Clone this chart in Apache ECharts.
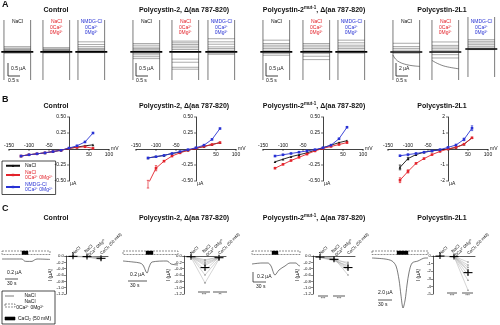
<!DOCTYPE html>
<html>
<head>
<meta charset="utf-8">
<script src="https://cdn.jsdelivr.net/npm/echarts@6.0.0/dist/echarts.min.js"></script>
<style>
html,body{margin:0;padding:0;background:#fff;}
#chart{width:500px;height:325px;}
</style>
</head>
<body>
<div id="chart"></div>
<script>
// ================= DATA =================
const panelTitles = ['Control', 'Polycystin-2, Δ(aa 787-820)', 'Polycystin-2{s|mut-1}, Δ(aa 787-820)', 'Polycystin-2L1'];
const legNaCl = 'NaCl';
const legLow = 'NaCl\n0Ca²⁺ 0Mg²⁺';
const legNmdg = 'NMDG-Cl\n0Ca²⁺ 0Mg²⁺';
const aLabelNaCl = ['NaCl'];
const aLabelLow = ['NaCl', '0Ca²⁺', '0Mg²⁺'];
const aLabelNmdg = ['NMDG-Cl', '0Ca²⁺', '0Mg²⁺'];

// Panel A: steady current levels of voltage-step traces (µA)
const aCtrlNaCl = [0.22, 0.16, 0.12, 0.09, 0.06, 0.03, -0.03, -0.05];
const aCtrlLow  = [0.18, 0.13, 0.10, 0.07, 0.05, 0.03, -0.02, -0.04];
const aCtrlNmdg = [0.42, 0.31, 0.22, 0.15, 0.11, 0.07, 0.03, -0.03];
const aPc2NaCl  = [0.35, 0.28, 0.20, 0.14, 0.09, 0.04, -0.06, -0.12, -0.20, -0.28];
const aPc2Low   = [0.45, 0.38, 0.31, 0.24, 0.17, 0.10, -0.30, -0.43, -0.64, -0.72];
const aPc2Nmdg  = [0.55, 0.42, 0.32, 0.21, 0.14, 0.07, -0.05, -0.10];
const aMutNaCl  = [0.49, 0.35, 0.28, 0.21, 0.14, 0.07, -0.07, -0.14];
const aMutLow   = [0.35, 0.28, 0.21, 0.14, 0.07, -0.07, -0.18, -0.32];
const aMutNmdg  = [0.49, 0.38, 0.28, 0.21, 0.14, 0.07, -0.05];
const aL1NaCl   = [1.45, 0.90, 0.60, 0.30, -0.20];
const aL1Low    = [1.67, 1.10, 0.83, 0.55, 0.28, -0.45, -1.00];
const aL1Nmdg   = [1.55, 1.28, 1.00, 0.72, 0.44, 0.17, -0.10];
const aL1NaClSlow = [[0, -0.5], [0.1, -1.2], [0.25, -1.7], [0.5, -2.1], [0.75, -2.3], [1, -2.4]];
const aL1LowSlow  = [[0, -1.4], [0.2, -1.9], [0.5, -2.4], [1, -2.8]];

// Panel B: I-V relations
const voltages = [-120, -100, -80, -60, -40, -20, 0, 20, 40, 60];
const ivCtrlNaCl = [-0.11, -0.09, -0.075, -0.06, -0.04, -0.02, 0.01, 0.03, 0.05, 0.065];
const ivCtrlLow  = [-0.11, -0.09, -0.075, -0.06, -0.04, -0.02, 0.01, 0.025, 0.035, 0.01];
const ivCtrlNmdg = [-0.11, -0.09, -0.075, -0.06, -0.04, -0.02, 0.015, 0.05, 0.11, 0.25];
const ivPc2NaCl  = [-0.14, -0.12, -0.10, -0.07, -0.05, -0.02, 0.01, 0.04, 0.07, 0.10];
const ivPc2Low   = [-0.55, -0.30, -0.19, -0.11, -0.06, -0.02, 0.01, 0.04, 0.07, 0.10];
const ivPc2Nmdg  = [-0.14, -0.12, -0.10, -0.07, -0.04, -0.01, 0.02, 0.06, 0.15, 0.32];
const ivMutNaCl  = [-0.20, -0.16, -0.12, -0.09, -0.06, -0.02, 0.02, 0.06, 0.10, 0.13];
const ivMutLow   = [-0.30, -0.24, -0.18, -0.13, -0.08, -0.03, 0.01, 0.04, 0.07, 0.10];
const ivMutNmdg  = [-0.11, -0.09, -0.07, -0.05, -0.03, -0.01, 0.02, 0.06, 0.16, 0.34];
const ivL1NaCl   = [-1.15, -0.60, -0.35, -0.20, -0.12, -0.05, 0.00, 0.10, 0.30, 0.70];
const ivL1Low    = [-1.95, -1.40, -0.90, -0.60, -0.35, -0.15, 0.00, 0.10, 0.30, 0.70];
const ivL1Nmdg   = [-0.42, -0.35, -0.28, -0.20, -0.12, -0.04, 0.10, 0.25, 0.60, 1.30];
const errPc2Low  = [0.06, 0.04, 0, 0, 0, 0, 0, 0, 0, 0];
const errL1NaCl  = [0.15, 0.08, 0, 0, 0, 0, 0, 0, 0, 0];
const errL1Low   = [0.15, 0.10, 0, 0, 0, 0, 0, 0, 0, 0];
const errL1Nmdg  = [0, 0, 0, 0, 0, 0, 0, 0, 0.08, 0.15];
const bXTicks = [-150, -100, -50, 50, 100];
const bYTicksSmall = [-0.5, -0.25, 0.25, 0.5];
const bYTicksL1 = [-2, -1, 1, 2];

// Panel C: perfusion traces (time s, µA)
const cCtrlTrace = [[0, 0], [100, 0], [112, -0.1], [125, -0.12], [150, -0.12], [162, -0.05], [175, 0], [240, -0.02]];
const cPc2Trace  = [[0, 0], [44, -0.05], [74, -0.1], [87, -0.2], [105, -0.6], [114, -0.3], [127, -0.05], [192, 0], [210, -0.15], [240, -0.2]];
const cMutTrace  = [[0, 0], [50, 0.05], [80, 0.05], [95, -0.1], [115, -0.55], [135, -0.3], [165, -0.1], [190, 0.05], [220, 0.05], [230, -0.05], [240, -0.1]];
const cL1Trace   = [[0, 0], [56, -0.1], [86, -0.3], [103, -0.8], [116, -2.2], [124, -3.7], [133, -5.0], [142, -4.2], [150, -2.7], [159, -1.4], [172, -0.5], [197, -0.3], [227, 0], [240, 0]];
// Panel C: per-cell currents [NaCl, NaCl 0Ca0Mg, CaCl2]
const dotCats = ['NaCl', 'NaCl\n0Ca²⁺ 0Mg²⁺', 'CaCl₂ (50 mM)'];
const ctrlCells = [[-0.01, -0.02, -0.05], [-0.01, -0.01, -0.08], [-0.02, -0.03, -0.12], [0, -0.01, -0.03], [-0.01, -0.02, -0.10], [-0.02, -0.02, -0.06]];
const pc2Cells  = [[-0.01, -0.12, -0.03], [-0.02, -0.20, -0.05], [-0.03, -0.30, -0.06], [-0.02, -0.45, -0.04], [-0.01, -0.60, -0.08], [-0.04, -0.85, -0.10], [-0.02, -0.15, -0.02], [-0.03, -0.25, -0.05]];
const mutCells  = [[-0.02, -0.08, -0.25], [-0.03, -0.10, -0.35], [-0.04, -0.12, -0.45], [-0.02, -0.06, -0.60], [-0.05, -0.15, -0.30], [-0.03, -0.10, -0.40], [-0.04, -0.13, -0.20]];
const l1Cells   = [[0, -0.05, -0.8], [-0.02, -0.08, -1.2], [-0.01, -0.10, -1.8], [0, -0.05, -2.5], [-0.03, -0.12, -3.2], [-0.01, -0.06, -4.5], [-0.02, -0.09, -1.5], [0, -0.04, -2.0]];
const sigLabels = [[], ['***', '**'], ['***', '***'], ['***', '***']];

// ================= BUILD =================
const FONT = '"Liberation Sans", Arial, Helvetica, sans-serif';
const RED = '#e3232b', BLUE = '#2832d4', INK = '#111';
const grids = [], xAxes = [], yAxes = [], series = [], gfx = [];

function addGrid(b) { grids.push(Object.assign({ containLabel: false, outerBoundsMode: 'none', show: false }, b)); return grids.length - 1; }
function txt(x, y, s, o) {
  const st = Object.assign({ text: s, fontSize: 5, fontFamily: FONT, fill: INK, textAlign: 'left', textVerticalAlign: 'middle' }, o || {});
  st.align = st.textAlign; st.verticalAlign = st.textVerticalAlign;
  gfx.push({ type: 'text', x, y, silent: true, z: 50, style: st });
}
function seg(x1, y1, x2, y2, o) { gfx.push({ type: 'line', silent: true, z: 50, shape: { x1, y1, x2, y2 }, style: Object.assign({ stroke: INK, lineWidth: 0.7 }, o || {}) }); }
function rect(x, y, w, h, o) { gfx.push({ type: 'rect', silent: true, z: 50, shape: { x, y, width: w, height: h }, style: Object.assign({ fill: 'none', stroke: INK, lineWidth: 0.6 }, o || {}) }); }

const titleX = [56, 184, 314, 442];
function titles(y) {
  titleX.forEach((x, i) => gfx.push({ type: 'text', x, y, silent: true, z: 50, style: {
    text: panelTitles[i], fontSize: 7, fontWeight: 'bold', fontFamily: FONT, fill: INK, lineHeight: 10,
    textAlign: 'center', align: 'center', textVerticalAlign: 'middle', verticalAlign: 'middle',
    rich: { s: { fontSize: 4.5, fontWeight: 'bold', fontFamily: FONT, verticalAlign: 'top', lineHeight: 10, fill: INK } } } }));
}
txt(2, 5, 'A', { fontSize: 9, fontWeight: 'bold' });
txt(2, 100, 'B', { fontSize: 9, fontWeight: 'bold' });
txt(2, 209, 'C', { fontSize: 9, fontWeight: 'bold' });
titles(10); titles(106); titles(218);

// ---------- Panel A ----------
const aSets = [[aCtrlNaCl, aCtrlLow, aCtrlNmdg], [aPc2NaCl, aPc2Low, aPc2Nmdg], [aMutNaCl, aMutLow, aMutNmdg], [aL1NaCl, aL1Low, aL1Nmdg]];
const aSlow = { '3-0': aL1NaClSlow, '3-1': aL1LowSlow };
const aGroupX = [[4, 43, 78], [133, 172, 208], [263, 303, 338], [393, 432, 468]];
const aRange = [[-1.17, 1.33], [-1.17, 1.33], [-1.17, 1.33], [-4.67, 5.33]];
const aLabels = [aLabelNaCl, aLabelLow, aLabelNmdg];
const aColors = [INK, RED, BLUE];
for (let p = 0; p < 4; p++) {
  for (let g = 0; g < 3; g++) {
    const top = (p === 3 && g === 2) ? 17 : 20;
    const gi = addGrid({ left: aGroupX[p][g] - 2.7, top, width: 32, height: 60 });
    const [mn, mx] = aRange[p];
    xAxes.push({ gridIndex: gi, type: 'value', min: -0.1, max: 1.1, show: false });
    yAxes.push({ gridIndex: gi, type: 'value', min: mn, max: mx, show: false });
    const xi = xAxes.length - 1, yi = yAxes.length - 1;
    const base = { type: 'line', xAxisIndex: xi, yAxisIndex: yi, symbol: 'none', silent: true, animation: false };
    aSets[p][g].forEach(v => series.push(Object.assign({}, base, { data: [[0, v], [1, v]], lineStyle: { color: '#555', width: 0.5 } })));
    const sl = aSlow[p + '-' + g];
    if (sl) series.push(Object.assign({}, base, { data: sl, smooth: 0.4, lineStyle: { color: '#333', width: 0.6 } }));
    series.push(Object.assign({}, base, { data: [[-0.1, 0], [1.1, 0]], lineStyle: { color: '#000', width: 1.7 } }));
    series.push(Object.assign({}, base, { data: [[0, mn], [0, mx]], lineStyle: { color: '#222', width: 0.6 } }));
    series.push(Object.assign({}, base, { data: [[1, mn], [1, mx]], lineStyle: { color: '#222', width: 0.6 } }));
    const cx = aGroupX[p][g] + 13.5;
    aLabels[g].forEach((s, k) => txt(cx, 22 + k * 5.5, s, { textAlign: 'center', fill: aColors[g], fontSize: 5 }));
  }
  const sx = [8, 136, 266, 396][p];
  seg(sx, 63, sx, 76, { lineWidth: 0.8 });
  seg(sx, 76, sx + 12, 76, { lineWidth: 0.8 });
  txt(sx + 3, 69, p === 3 ? '2 µA' : '0.5 µA', { fontSize: 5 });
  txt(sx, 81, '0.5 s', { fontSize: 5 });
}

// ---------- Panel B ----------
const bLeft = [9, 136, 263, 388];
const bRange = [[-0.5, 0.5], [-0.5, 0.5], [-0.5, 0.5], [-2, 2]];
const bYTicks = [bYTicksSmall, bYTicksSmall, bYTicksSmall, bYTicksL1];
const ivSets = [[ivCtrlNaCl, ivCtrlLow, ivCtrlNmdg], [ivPc2NaCl, ivPc2Low, ivPc2Nmdg], [ivMutNaCl, ivMutLow, ivMutNmdg], [ivL1NaCl, ivL1Low, ivL1Nmdg]];
const errSets = [[null, null, null], [null, errPc2Low, null], [null, null, null], [errL1NaCl, errL1Low, errL1Nmdg]];
const bNames = [legNaCl, legLow, legNmdg];
const bColors = [INK, RED, BLUE];
const bSymbols = ['triangle', 'rect', 'rect'];
const bAxes = [];
function errRender(color) {
  return function (params, api) {
    const x = api.value(0), y = api.value(1), e = api.value(2);
    const a = api.coord([x, y + e]), b = api.coord([x, y - e]);
    return { type: 'group', children: [
      { type: 'line', shape: { x1: a[0], y1: a[1], x2: b[0], y2: b[1] }, style: { stroke: color, lineWidth: 0.7 } },
      { type: 'line', shape: { x1: a[0] - 1.2, y1: a[1], x2: a[0] + 1.2, y2: a[1] }, style: { stroke: color, lineWidth: 0.7 } },
      { type: 'line', shape: { x1: b[0] - 1.2, y1: b[1], x2: b[0] + 1.2, y2: b[1] }, style: { stroke: color, lineWidth: 0.7 } }
    ] };
  };
}
for (let p = 0; p < 4; p++) {
  const [mn, mx] = bRange[p];
  const gi = addGrid({ left: bLeft[p], top: 117, width: 100, height: 64 });
  const axLine = { onZero: true, lineStyle: { color: INK, width: 0.8 } };
  xAxes.push({ gridIndex: gi, type: 'value', min: -150, max: 100, axisLine: axLine, axisTick: { show: false }, axisLabel: { show: false }, splitLine: { show: false } });
  yAxes.push({ gridIndex: gi, type: 'value', min: mn, max: mx, axisLine: axLine, axisTick: { show: false }, axisLabel: { show: false }, splitLine: { show: false } });
  const xi = xAxes.length - 1, yi = yAxes.length - 1;
  bAxes.push([xi, yi, p]);
  for (let k = 0; k < 3; k++) {
    const ivs = ivSets[p][k];
    series.push({ type: 'line', name: bNames[k], xAxisIndex: xi, yAxisIndex: yi, animation: false,
      data: voltages.map((v, i) => [v, ivs[i]]), symbol: bSymbols[k], symbolSize: 2.6,
      lineStyle: { color: bColors[k], width: 0.9 }, itemStyle: { color: bColors[k] }, z: 3 + k });
    const es = errSets[p][k];
    if (es) series.push({ type: 'custom', xAxisIndex: xi, yAxisIndex: yi, silent: true, animation: false, z: 3 + k,
      data: voltages.map((v, i) => [v, ivs[i], es[i]]).filter(d => d[2] > 0), renderItem: errRender(bColors[k]) });
  }
}

// ---------- Panel C ----------
const cTraces = [cCtrlTrace, cPc2Trace, cMutTrace, cL1Trace];
const cTraceBox = [[2, 48], [123, 55], [252, 48], [372, 56]];
const cTraceY = [[-2.6, 0.15], [-2.5, 0.25], [-2.35, 0.4], [-5.3, 0.2]];
const cellSets = [ctrlCells, pc2Cells, mutCells, l1Cells];
const dotLeft = [66, 184, 313, 433];
const dotY = [[-1.2, 0, 0.2], [-1.2, 0, 0.2], [-1.2, 0, 0.2], [-5, 0, 1]];
function meanRender(params, api) {
  const x = api.value(0), m = api.value(1), s = api.value(2);
  const c = api.coord([x, m]), t = api.coord([x, m + s]), b = api.coord([x, m - s]);
  const h = Math.max(3, (b[1] - t[1]) / 2);
  return { type: 'group', children: [
    { type: 'line', shape: { x1: c[0] - 4.5, y1: c[1], x2: c[0] + 4.5, y2: c[1] }, style: { stroke: '#000', lineWidth: 1.1 } },
    { type: 'line', shape: { x1: c[0], y1: c[1] - h, x2: c[0], y2: c[1] + h }, style: { stroke: '#000', lineWidth: 1.1 } }
  ] };
}
for (let p = 0; p < 4; p++) {
  const gi = addGrid({ left: cTraceBox[p][0], top: 256, width: cTraceBox[p][1], height: 55 });
  xAxes.push({ gridIndex: gi, type: 'value', min: 0, max: 240, show: false });
  yAxes.push({ gridIndex: gi, type: 'value', min: cTraceY[p][0], max: cTraceY[p][1], show: false });
  series.push({ type: 'line', xAxisIndex: xAxes.length - 1, yAxisIndex: yAxes.length - 1, data: cTraces[p], symbol: 'none', smooth: 0.3,
    silent: true, animation: false, lineStyle: { color: '#222', width: 0.6 } });
  const [mn, mx, iv] = dotY[p];
  const gd = addGrid({ left: dotLeft[p], top: 256, width: 42, height: 38 });
  xAxes.push({ gridIndex: gd, type: 'category', position: 'top', data: dotCats, boundaryGap: true,
    axisLine: { onZero: true, lineStyle: { color: INK, width: 0.7 } }, axisTick: { show: false },
    axisLabel: { rotate: 45, fontSize: 4.3, margin: 2, interval: 0, color: INK, fontFamily: FONT, lineHeight: 5 } });
  yAxes.push({ gridIndex: gd, type: 'value', min: mn, max: mx, interval: iv,
    axisLine: { show: true, onZero: false, lineStyle: { color: INK, width: 0.7 } }, axisTick: { show: true, length: 2, lineStyle: { color: INK, width: 0.5 } },
    splitLine: { show: false },
    axisLabel: { fontSize: 4.3, margin: 2, color: INK, fontFamily: FONT, formatter: v => p === 3 ? String(v) : v.toFixed(1) },
    name: 'I (µA)', nameLocation: 'middle', nameGap: 12, nameTextStyle: { fontSize: 5, color: INK, fontFamily: FONT } });
  const xi = xAxes.length - 1, yi = yAxes.length - 1;
  cellSets[p].forEach(cell => series.push({ type: 'line', xAxisIndex: xi, yAxisIndex: yi, data: cell, silent: true, animation: false,
    symbol: 'circle', symbolSize: 1.6, lineStyle: { color: '#aaa', width: 0.5 }, itemStyle: { color: '#888' }, z: 2 }));
  const stats = [0, 1, 2].map(k => {
    const vals = cellSets[p].map(c => c[k]);
    const m = vals.reduce((a, b) => a + b, 0) / vals.length;
    const sd = Math.sqrt(vals.reduce((a, b) => a + (b - m) * (b - m), 0) / (vals.length - 1));
    return [k, m, sd / Math.sqrt(vals.length)];
  });
  series.push({ type: 'custom', xAxisIndex: xi, yAxisIndex: yi, data: stats, renderItem: meanRender, silent: true, animation: false, z: 5 });
}
const perf = [[2, 48, 22, 6], [123, 55, 146, 7], [252, 48, 272, 6], [372, 56, 397, 11]];
perf.forEach(([x, w, bx, bw]) => {
  rect(x, 251, w, 3.5, { fill: '#fff', stroke: '#444', lineWidth: 0.6, lineDash: [2, 1] });
  rect(bx, 251, bw, 3.5, { fill: '#000', stroke: '#000', lineWidth: 0.4 });
});
seg(5, 279, 18, 279); txt(7, 273, '0.2 µA'); txt(7, 284, '30 s');
seg(128, 281, 147, 281); txt(130, 275, '0.2 µA'); txt(130, 286, '30 s');
seg(253, 272, 253, 282); seg(253, 282, 266, 282); txt(257, 277, '0.2 µA'); txt(256, 287, '30 s');
seg(378, 300, 392, 300); txt(378, 293, '2.0 µA'); txt(378, 305, '30 s');
const sigPos = [null, [[198, 210], [213, 227], 292], [[318, 328], [333, 345], 296], [[447, 457], [462, 473], 293]];
for (let p = 1; p < 4; p++) {
  const [a, b, y] = sigPos[p];
  [a, b].forEach((r, k) => { seg(r[0], y, r[1], y, { lineWidth: 0.7 }); txt((r[0] + r[1]) / 2, y + 3, sigLabels[p][k], { textAlign: 'center', fontSize: 4 }); });
}
rect(2, 291, 53, 33, { stroke: '#000', lineWidth: 0.7 });
seg(5, 296, 14, 296, { stroke: '#444', lineWidth: 0.7 });
txt(30, 296, 'NaCl', { textAlign: 'center' });
rect(5, 304, 10, 3, { fill: '#fff', stroke: '#444', lineWidth: 0.6, lineDash: [2, 1] });
txt(30, 302, 'NaCl', { textAlign: 'center' });
txt(30, 308, '0Ca²⁺ 0Mg²⁺', { textAlign: 'center' });
rect(5, 317, 10, 3, { fill: '#000', stroke: '#000' });
txt(18, 318.5, 'CaCl₂ (50 mM)');

const option = {
  animation: false,
  backgroundColor: '#fff',
  textStyle: { fontFamily: FONT },
  grid: grids, xAxis: xAxes, yAxis: yAxes, series,
  legend: { left: 2, top: 161, orient: 'vertical', itemGap: 1, padding: [2, 3, 2, 3], borderColor: '#000', borderWidth: 0.7,
    itemWidth: 14, itemHeight: 3, selectedMode: false,
    textStyle: { fontSize: 5, fontFamily: FONT, lineHeight: 5.5 },
    data: [{ name: legNaCl, textStyle: { color: INK } }, { name: legLow, textStyle: { color: RED } }, { name: legNmdg, textStyle: { color: BLUE } }] },
  graphic: { elements: gfx }
};
const chart = echarts.init(document.getElementById('chart'), null, { renderer: 'canvas', width: 500, height: 325 });
chart.setOption(option);

// Panel B axis ticks and labels placed through the axes' own scales
bAxes.forEach(([xi, yi, p]) => {
  const f = (x, y) => chart.convertToPixel({ xAxisIndex: xi, yAxisIndex: yi }, [x, y]);
  bXTicks.forEach(v => {
    const [px, py] = f(v, 0);
    seg(px, py, px, py + 2, { lineWidth: 0.6 });
    if (v < 0) txt(px, py - 0.5, String(v), { textAlign: 'center', textVerticalAlign: 'bottom' });
    else txt(px, py + 6, String(v), { textAlign: 'center' });
  });
  bYTicks[p].forEach(v => {
    const [px, py] = f(0, v);
    seg(px - 2, py, px, py, { lineWidth: 0.6 });
    txt(px - 3, py, p < 3 ? v.toFixed(2) : String(v), { textAlign: 'right' });
  });
  const [ex, ey] = f(100, 0);
  txt(ex + 2, ey, 'mV');
  const [ox, oy] = f(0, bRange[p][0]);
  txt(ox + 1, oy + 3, 'µA');
});
chart.setOption({ graphic: { elements: gfx } });
</script>
</body>
</html>
